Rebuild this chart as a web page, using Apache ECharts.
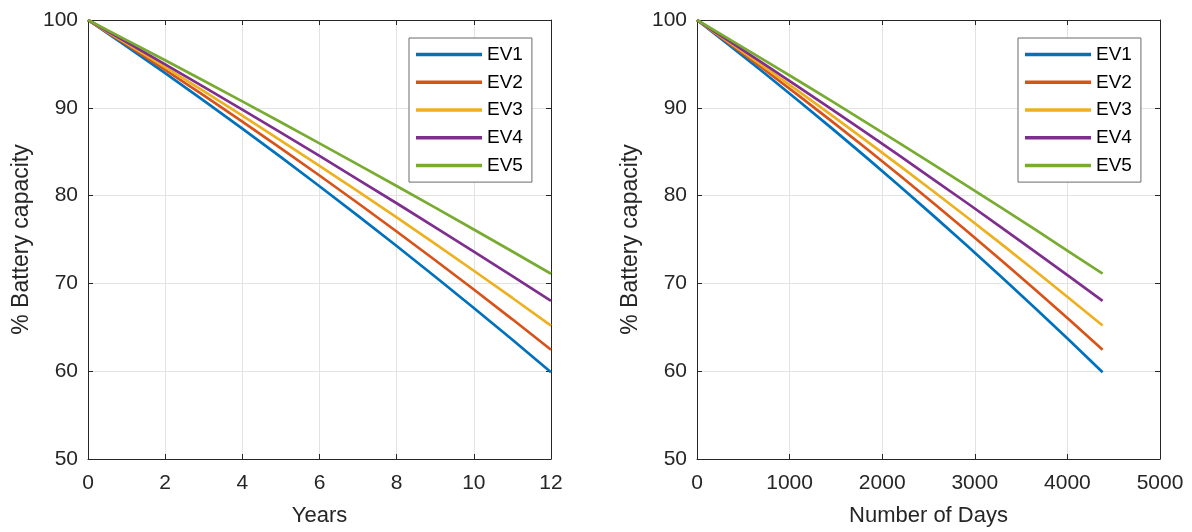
<!DOCTYPE html>
<html>
<head>
<meta charset="utf-8">
<script src="https://cdn.jsdelivr.net/npm/echarts@6/dist/echarts.min.js"></script>
<style>
  html, body { margin: 0; padding: 0; background: #ffffff; }
  #chart { width: 1192px; height: 532px; }
</style>
</head>
<body>
<div id="chart"></div>
<script>
// ---- data ----
const years = [0, 1, 2, 3, 4, 5, 6, 7, 8, 9, 10, 11, 12];
const days  = [0, 365, 730, 1095, 1460, 1825, 2190, 2555, 2920, 3285, 3650, 4015, 4380];
const ev1 = [100, 97.00, 93.94, 90.81, 87.63, 84.38, 81.07, 77.69, 74.26, 70.76, 67.20, 63.58, 59.89];
const ev2 = [100, 97.19, 94.33, 91.41, 88.43, 85.39, 82.29, 79.13, 75.91, 72.64, 69.30, 65.91, 62.45];
const ev3 = [100, 97.34, 94.64, 91.90, 89.11, 86.27, 83.39, 80.47, 77.51, 74.50, 71.44, 68.34, 65.20];
const ev4 = [100, 97.49, 94.95, 92.39, 89.79, 87.17, 84.52, 81.83, 79.13, 76.39, 73.62, 70.83, 68.00];
const ev5 = [100, 97.71, 95.41, 93.08, 90.73, 88.35, 85.95, 83.53, 81.09, 78.63, 76.14, 73.63, 71.10];
const seriesNames = ['EV1', 'EV2', 'EV3', 'EV4', 'EV5'];
const seriesValues = [ev1, ev2, ev3, ev4, ev5];
const colors = ['#0072BD', '#D95319', '#EDB120', '#7E2F8E', '#77AC30'];
const yTicks = [50, 60, 70, 80, 90, 100];

// ---- styling ----
const FONT = "'Liberation Sans', Arial, Helvetica, sans-serif";
const AX = '#262626';
const GRIDC = '#e3e3e3';

function bottomX(gridIndex, min, max, interval, name) {
  return {
    type: 'value', gridIndex, min, max, interval, position: 'bottom',
    name, nameLocation: 'middle', nameGap: 46,
    nameTextStyle: { fontFamily: FONT, fontSize: 22, color: AX },
    axisLine: { show: true, onZero: false, lineStyle: { color: AX, width: 1 } },
    axisTick: { show: true, inside: true, length: 5, lineStyle: { color: AX } },
    axisLabel: { show: true, margin: 14, fontFamily: FONT, fontSize: 21, color: AX,
      formatter: v => String(v) },
    splitLine: { show: true, lineStyle: { color: GRIDC, width: 1 } }
  };
}
function topX(gridIndex, min, max, interval) {
  return {
    type: 'value', gridIndex, min, max, interval, position: 'top',
    axisLine: { show: true, onZero: false, lineStyle: { color: AX, width: 1 } },
    axisTick: { show: true, inside: true, length: 5, lineStyle: { color: AX } },
    axisLabel: { show: false },
    splitLine: { show: false }
  };
}
function leftY(gridIndex) {
  return {
    type: 'value', gridIndex, min: 50, max: 100, interval: 10, position: 'left',
    name: '% Battery capacity', nameLocation: 'middle', nameGap: 55, nameRotate: 90,
    nameTextStyle: { fontFamily: FONT, fontSize: 23, color: AX },
    axisLine: { show: true, onZero: false, lineStyle: { color: AX, width: 1 } },
    axisTick: { show: true, inside: true, length: 5, lineStyle: { color: AX } },
    axisLabel: { show: true, margin: 10, fontFamily: FONT, fontSize: 21, color: AX,
      formatter: v => (yTicks.indexOf(v) >= 0 ? String(v) : '') },
    splitLine: { show: true, lineStyle: { color: GRIDC, width: 1 } }
  };
}
function rightY(gridIndex) {
  return {
    type: 'value', gridIndex, min: 50, max: 100, interval: 10, position: 'right',
    axisLine: { show: true, onZero: false, lineStyle: { color: AX, width: 1 } },
    axisTick: { show: true, inside: true, length: 5, lineStyle: { color: AX } },
    axisLabel: { show: false },
    splitLine: { show: false }
  };
}
function legendAt(left) {
  return {
    data: seriesNames, orient: 'vertical', left, top: 38,
    icon: 'rect', itemWidth: 66, itemHeight: 3.5, itemGap: 7.7,
    padding: [6.6, 9, 6.7, 7],
    backgroundColor: '#ffffff', borderColor: '#6b6b6b', borderWidth: 1, borderRadius: 0,
    textStyle: { fontFamily: FONT, fontSize: 19, color: '#000000', lineHeight: 20 },
    selectedMode: false
  };
}

const series = [];
seriesNames.forEach((nm, i) => {
  series.push({
    name: nm, type: 'line', xAxisIndex: 0, yAxisIndex: 0,
    data: years.map((x, j) => [x, seriesValues[i][j]]),
    showSymbol: false, symbol: 'none', color: colors[i],
    lineStyle: { width: 2.7, color: colors[i] }, z: 3 + i
  });
  series.push({
    name: nm, type: 'line', xAxisIndex: 2, yAxisIndex: 2,
    data: days.map((x, j) => [x, seriesValues[i][j]]),
    showSymbol: false, symbol: 'none', color: colors[i],
    lineStyle: { width: 2.7, color: colors[i] }, z: 3 + i
  });
});

const option = {
  animation: false,
  backgroundColor: '#ffffff',
  color: colors,
  grid: [
    { left: 88, top: 20, width: 463, height: 441, containLabel: false },
    { left: 697, top: 20, width: 463, height: 441, containLabel: false }
  ],
  xAxis: [
    bottomX(0, 0, 12, 2, 'Years'),
    topX(0, 0, 12, 2),
    bottomX(1, 0, 5000, 1000, 'Number of Days'),
    topX(1, 0, 5000, 1000)
  ],
  yAxis: [leftY(0), rightY(0), leftY(1), rightY(1)],
  legend: [legendAt(409), legendAt(1018)],
  series
};

const chart = echarts.init(document.getElementById('chart'), null, { renderer: 'canvas' });
chart.setOption(option);
</script>
</body>
</html>
